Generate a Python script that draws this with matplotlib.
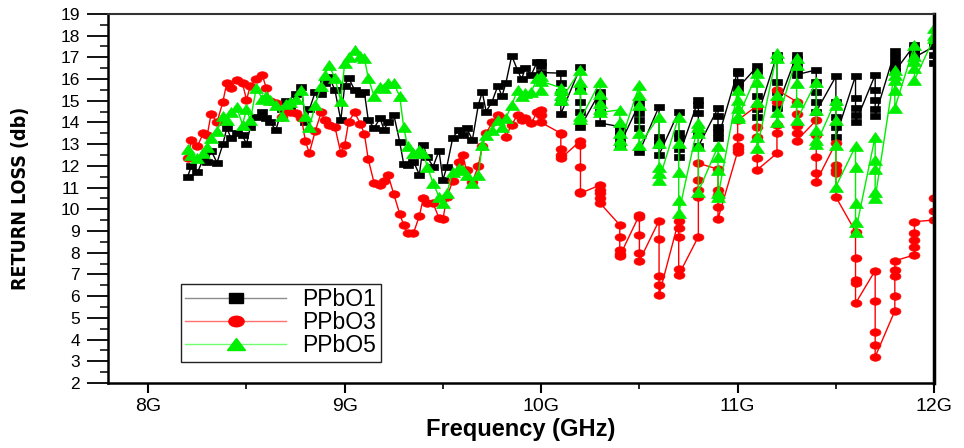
import numpy as np
import matplotlib
matplotlib.use("Agg")
import matplotlib.pyplot as plt
from matplotlib.markers import MarkerStyle
from matplotlib.transforms import Affine2D
from matplotlib.lines import Line2D
from matplotlib.ticker import MultipleLocator, FixedLocator

# Swept frequencies (GHz). Below 10 GHz the analyzer reports 3 digits,
# above 10 GHz the readings collapse onto 0.1 GHz columns.
sweep_freq = [8.2, 8.22, 8.25, 8.28, 8.3, 8.32, 8.35, 8.38, 8.4, 8.42, 8.45, 8.48,
              8.5, 8.52, 8.55, 8.58, 8.6, 8.62, 8.65, 8.68, 8.7, 8.72, 8.75, 8.78,
              8.8, 8.82, 8.85, 8.88, 8.9, 8.92, 8.95, 8.98, 9.0, 9.02, 9.05, 9.08,
              9.1, 9.12, 9.15, 9.18, 9.2, 9.22, 9.25, 9.28, 9.3, 9.32, 9.35, 9.38,
              9.4, 9.42, 9.45, 9.48, 9.5, 9.52, 9.55, 9.58, 9.6, 9.62, 9.65, 9.68,
              9.7, 9.72, 9.75, 9.78, 9.8, 9.82, 9.85, 9.88, 9.9, 9.92, 9.95, 9.98]
band_freq = [10.0, 10.1, 10.2, 10.3, 10.4, 10.5, 10.6, 10.7, 10.8, 10.9, 11.0,
             11.1, 11.2, 11.3, 11.4, 11.5, 11.6, 11.7, 11.8, 11.9, 12.0]
band_count = [3, 5, 5, 5, 5, 5, 5, 5, 5, 5, 5, 5, 5, 5, 5, 5, 5, 5, 5, 5, 3]

# Return loss (dB)
ppbo1 = [11.5, 12.0, 11.7, 12.3, 12.2, 12.7, 12.15, 13.0, 13.75, 13.3, 13.5, 13.4,
         13.0, 13.8, 14.25, 14.5, 14.2, 14.0, 13.66, 14.6, 15.0, 14.7, 15.3, 15.65,
         14.0, 14.6, 15.4, 15.3, 15.8, 16.1, 15.5, 14.1, 15.7, 16.05, 15.5, 15.3,
         15.4, 14.1, 13.75, 14.2, 13.66, 14.0, 14.35, 13.1, 12.1, 12.05, 12.2, 11.6,
         12.96, 12.4, 11.97, 12.7, 11.35, 11.97, 13.3, 13.66, 13.4, 13.75, 13.2, 14.8,
         15.4, 14.5, 14.96, 15.7, 15.2, 15.8, 17.07, 16.4, 16.0, 16.5, 16.2, 16.8,
         16.58, 16.8, 16.3,
         16.27, 15.8, 15.42, 14.96, 14.4,
         16.55, 15.6, 14.96, 14.5, 13.8,
         15.42, 15.2, 14.96, 14.5, 13.97,
         13.81, 13.6, 13.43, 13.2, 12.97,
         14.89, 14.43, 14.1, 13.74, 12.66,
         14.73, 13.35, 13.2, 12.97, 12.51,
         14.5, 13.5, 13.27, 12.8, 12.43,
         15.04, 14.8, 14.43, 13.5, 12.9,
         14.66, 14.3, 13.8, 13.58, 13.27,
         16.35, 16.27, 15.88, 15.81, 15.58,
         16.58, 16.35, 15.2, 14.6, 14.27,
         17.1, 16.9, 15.88, 15.42, 14.66,
         17.1, 16.9, 16.6, 16.42, 16.2,
         16.42, 15.88, 15.4, 14.96, 14.5,
         16.12, 14.96, 14.27, 13.8, 13.35,
         16.15, 15.12, 14.66, 14.35, 14.0,
         16.19, 15.5, 15.04, 14.6, 14.3,
         17.27, 17.0, 16.73, 16.5, 16.35,
         17.57, 17.42, 17.27, 17.2, 17.0,
         17.5, 17.1, 16.73]

ppbo3 = [12.35, 13.2, 12.9, 13.5, 13.4, 14.4, 14.0, 14.96, 15.83, 15.58, 15.96, 15.8,
         15.04, 15.7, 15.98, 16.2, 15.6, 15.0, 14.9, 14.27, 14.6, 14.5, 14.44, 14.2,
         13.13, 12.6, 13.6, 14.46, 14.1, 13.9, 13.8, 12.6, 12.97, 14.04, 14.46, 13.94,
         13.47, 12.3, 11.2, 11.1, 11.3, 11.6, 10.7, 9.79, 9.28, 8.9, 8.9, 9.7,
         10.5, 10.3, 10.28, 9.59, 9.54, 10.58, 11.3, 12.2, 12.5, 11.8, 11.27, 12.0,
         12.9, 13.5, 14.0, 14.35, 14.2, 13.35, 13.9, 14.35, 14.1, 14.2, 13.96, 14.5,
         14.35, 14.58, 14.0,
         13.5, 13.46, 12.77, 12.5, 12.35,
         13.15, 12.97, 11.97, 10.79, 10.74,
         11.12, 10.9, 10.74, 10.51, 10.28,
         9.28, 8.74, 8.13, 7.95, 7.85,
         9.74, 9.66, 8.82, 8.0, 7.62,
         9.48, 8.62, 6.93, 6.52, 6.06,
         9.48, 9.13, 8.71, 7.24, 6.98,
         8.74, 10.58, 10.9, 11.35, 12.12,
         11.85, 10.89, 10.66, 10.1, 9.56,
         12.66, 12.8, 12.9, 13.35, 14.1,
         14.78, 13.81, 13.35, 12.35, 11.82,
         12.58, 13.5, 13.9, 14.96, 15.5,
         14.96, 14.4, 13.84, 13.5, 13.16,
         14.1, 13.43, 12.43, 11.66, 11.28,
         13.06, 12.05, 11.82, 11.68, 10.57,
         8.97, 7.74, 6.74, 6.59, 5.67,
         7.18, 5.79, 4.36, 3.75, 3.21,
         5.32, 6.0, 6.93, 7.2, 7.63,
         7.9, 8.28, 8.59, 8.92, 9.43,
         9.51, 9.9, 10.51]

ppbo5 = [12.8, 12.5, 12.35, 12.6, 12.86, 13.3, 13.6, 14.3, 14.1, 14.5, 14.7, 13.9,
         14.6, 14.1, 15.6, 15.1, 15.2, 15.04, 14.8, 14.3, 14.86, 14.96, 15.1, 15.5,
         14.3, 13.78, 14.8, 15.7, 16.2, 16.65, 16.04, 15.0, 16.74, 17.0, 17.35, 17.05,
         16.96, 16.04, 15.2, 15.65, 15.6, 15.8, 15.8, 15.2, 13.8, 12.9, 12.6, 12.75,
         12.6, 11.97, 11.2, 10.58, 10.28, 10.74, 11.74, 11.9, 11.8, 11.6, 11.2, 11.6,
         12.96, 13.43, 13.66, 14.1, 13.8, 14.2, 14.8, 15.5, 15.2, 15.35, 15.42, 16.04,
         15.5, 16.12, 15.9,
         15.6, 15.5, 15.27, 15.1, 15.04,
         16.42, 15.88, 15.53, 14.3, 14.15,
         15.88, 15.3, 14.89, 14.6, 14.46,
         14.58, 14.04, 13.5, 13.2, 12.97,
         15.73, 15.27, 14.81, 13.5, 12.97,
         14.27, 13.04, 11.97, 11.66, 11.35,
         14.27, 13.04, 11.74, 10.43, 9.82,
         13.97, 13.81, 13.5, 12.9, 10.82,
         12.9, 12.43, 11.82, 10.74, 10.58,
         15.5, 15.04, 14.66, 14.3, 14.2,
         16.27, 15.88, 14.96, 13.35, 12.82,
         17.18, 16.96, 15.27, 14.5, 14.04,
         16.96, 16.65, 15.81, 14.96, 14.1,
         15.88, 14.58, 13.66, 13.2, 13.0,
         15.04, 14.81, 14.1, 12.97, 11.05,
         12.9, 11.97, 10.28, 9.43, 8.97,
         13.35, 12.28, 11.85, 10.82, 10.51,
         16.42, 16.19, 15.96, 15.5, 14.66,
         17.57, 17.04, 16.81, 16.5, 15.96,
         17.9, 18.04, 18.35]

labels = ["PPbO1", "PPbO3", "PPbO5"]
colors = ["#000000", "#ff0000", "#00ee00"]
legend_line_colors = ["#8c8c8c", "#ff7070", "#70ff70"]

freq = np.concatenate([sweep_freq, np.repeat(band_freq, band_count)])

# markers are a bit wider than tall
wide = Affine2D().scale(1.45, 1.0)
markers = [MarkerStyle("s", transform=wide),
           MarkerStyle("o", transform=wide),
           MarkerStyle("^", transform=wide)]
sizes = [5.0, 5.4, 6.6]

plt.rcParams["font.family"] = ["Liberation Sans", "DejaVu Sans"]

fig = plt.figure(figsize=(9.64, 4.48), dpi=100)
ax = fig.add_axes([0.112, 0.145, 0.857, 0.824])

for vals, lab, col, mk, ms in zip([ppbo1, ppbo3, ppbo5], labels, colors, markers, sizes):
    ax.plot(freq, vals, color=col, lw=1.0, marker=mk, ms=ms,
            mfc=col, mec=col, mew=0.5, label=lab, clip_on=True)

ax.set_xlim(7.795, 12.0)
ax.set_ylim(2, 19)

ax.xaxis.set_major_locator(FixedLocator([8, 9, 10, 11, 12]))
ax.xaxis.set_minor_locator(FixedLocator([8.5, 9.5, 10.5, 11.5]))
ax.set_xticklabels(["8G", "9G", "10G", "11G", "12G"])
ax.yaxis.set_major_locator(MultipleLocator(1))
ax.yaxis.set_minor_locator(MultipleLocator(0.5))

ax.tick_params(axis="x", which="major", direction="out", length=7, width=1.5,
               labelsize=14, pad=4)
ax.tick_params(axis="x", which="minor", direction="out", length=4, width=1.2)
ax.tick_params(axis="y", which="major", direction="out", length=15, width=1.3,
               labelsize=12.5, pad=5)
ax.tick_params(axis="y", which="minor", direction="out", length=6, width=1.1)

for side in ["left", "bottom"]:
    ax.spines[side].set_linewidth(1.8)
ax.spines["top"].set_linewidth(1.5)
ax.spines["top"].set_color("#333333")
ax.spines["right"].set_linewidth(2.5)

ax.set_xlabel("Frequency (GHz)", fontsize=17, fontweight="bold", labelpad=2)
ax.set_ylabel("RETURN LOSS (db)", fontsize=14, fontweight="bold",
              family="DejaVu Sans", fontstretch="condensed")
ax.yaxis.set_label_coords(-0.094, 0.5)

handles = [Line2D([], [], color=lc, lw=1.0, marker=mk, ms=ms * 1.4, mfc=c, mec=c)
           for lc, mk, ms, c in zip(legend_line_colors, markers, sizes, colors)]
leg = ax.legend(handles, labels, loc="lower left", bbox_to_anchor=(0.088, 0.057),
                borderaxespad=0, numpoints=1, handlelength=4.4, handletextpad=0.7,
                fontsize=16.5, fancybox=False, edgecolor="#222222", framealpha=1,
                borderpad=0.2, labelspacing=0.0)
leg.get_frame().set_linewidth(1.0)

fig.savefig("out.png", dpi=100)
